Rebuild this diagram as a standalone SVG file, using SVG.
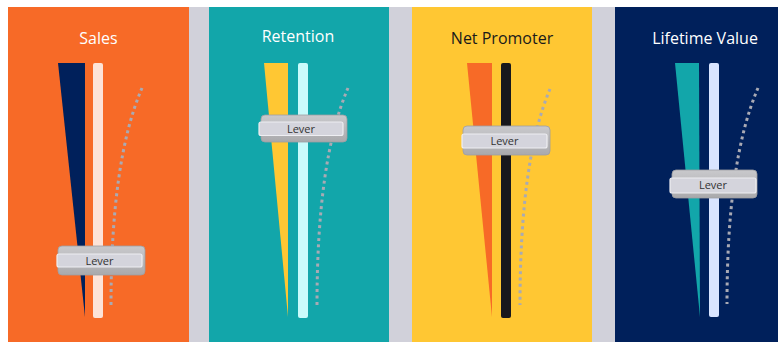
<svg xmlns="http://www.w3.org/2000/svg" width="780" height="342" viewBox="0 0 780 342">
<defs>
<linearGradient id="knob" x1="0" y1="0" x2="0" y2="1">
<stop offset="0" stop-color="#c9c9cc"/>
<stop offset="0.5" stop-color="#b9b9bc"/>
<stop offset="1" stop-color="#a9a9ac"/>
</linearGradient>
</defs>
<style>
.title{font-family:"Open Sans","Noto Sans",sans-serif;font-size:16px;text-anchor:middle}
.dots{fill:none;stroke:#a9aab4;stroke-width:3;stroke-dasharray:3 3.4}
.knob{fill:url(#knob);stroke:#9e9ea2;stroke-width:0.8}
.face{fill:#d4d4dc;stroke:#eeeef2;stroke-width:1.2}
.lbl{font-family:"Open Sans","Noto Sans",sans-serif;font-size:11px;fill:#333;text-anchor:middle}
</style>
<rect x="0" y="0" width="780" height="342" fill="#ffffff"/>
<rect x="8" y="7" width="770" height="335" fill="#d1d1da"/>

<g id="sales">
<rect x="8" y="7" width="181" height="335" fill="#f76a27"/>
<text class="title" x="98.5" y="44" fill="#ffffff">Sales</text>
<polygon points="58,63 85,63 85,317" fill="#00205b"/>
<rect x="93" y="63" width="10" height="255" rx="2" fill="#fde3d8"/>
<path class="dots" d="M142 88 Q111 160 111 305"/>
<g id="lever-sales">
<rect class="knob" x="58" y="246" width="87" height="29" rx="4"/>
<rect class="face" x="57" y="254" width="85" height="13" rx="2"/>
<text class="lbl" x="99.5" y="264.5">Lever</text>
</g>
</g>

<g id="retention">
<rect x="209" y="7" width="180" height="335" fill="#12a6aa"/>
<text class="title" x="298" y="42" fill="#ffffff">Retention</text>
<polygon points="264,63 288,63 288,317" fill="#ffc733"/>
<rect x="298" y="63" width="10" height="255" rx="2" fill="#c9fbfb"/>
<path class="dots" d="M348 88 Q317 160 317 305"/>
<g id="lever-retention">
<rect class="knob" x="261" y="115" width="86" height="27" rx="4"/>
<rect class="face" x="259" y="122" width="84" height="13.5" rx="2"/>
<text class="lbl" x="301" y="132.5">Lever</text>
</g>
</g>

<g id="net-promoter">
<rect x="412" y="7" width="180" height="335" fill="#ffc733"/>
<text class="title" x="502" y="44" fill="#1a1a1a">Net Promoter</text>
<polygon points="467,63 492,63 492,317" fill="#f76a27"/>
<rect x="501" y="63" width="10" height="255" rx="2" fill="#18181c"/>
<path class="dots" d="M550 89 Q520 160 520 305"/>
<g id="lever-net-promoter">
<rect class="knob" x="463" y="126" width="87" height="29" rx="4"/>
<rect class="face" x="462" y="134" width="85" height="14" rx="2"/>
<text class="lbl" x="504.5" y="145">Lever</text>
</g>
</g>

<g id="lifetime-value">
<rect x="615" y="7" width="163" height="335" fill="#00205b"/>
<text class="title" x="705" y="44" fill="#ffffff">Lifetime Value</text>
<polygon points="675,63 699,63 700,317" fill="#12a6aa"/>
<rect x="709" y="63" width="10" height="254" rx="2" fill="#d9e4ff"/>
<path class="dots" d="M758 88 Q727 160 727 304"/>
<g id="lever-lifetime-value">
<rect class="knob" x="672" y="170" width="85" height="28" rx="4"/>
<rect class="face" x="670" y="178" width="86" height="15" rx="2"/>
<text class="lbl" x="713" y="189">Lever</text>
</g>
</g>
</svg>
